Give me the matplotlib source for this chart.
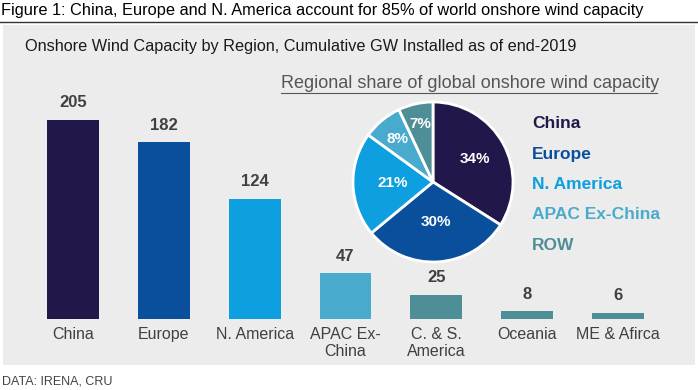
import numpy as np
import matplotlib
matplotlib.use("Agg")
from matplotlib import pyplot as plt
from matplotlib.patches import Rectangle
from matplotlib.lines import Line2D

# bar data
regions = ["China", "Europe", "N. America", "APAC Ex-\nChina", "C. & S.\nAmerica", "Oceania", "ME & Afirca"]
capacity_gw = [205, 182, 124, 47, 25, 8, 6]
bar_colors = ["#21174a", "#0a4f9c", "#0d9fe0", "#48abcd", "#4e8e97", "#4e8e97", "#4e8e97"]

# pie data
pie_labels = ["China", "Europe", "N. America", "APAC Ex-China", "ROW"]
pie_share = [34, 30, 21, 8, 7]
pie_colors = ["#21174a", "#0a4f9c", "#0d9fe0", "#48abcd", "#4e8e97"]
pct_dist = [0.6, 0.5, 0.5, 0.7, 0.74]

plt.rcParams['font.family'] = ['Liberation Sans', 'DejaVu Sans']
W, H = 698, 390
fig = plt.figure(figsize=(W / 100, H / 100), dpi=100)
fig.patch.set_facecolor("white")

def fx(px):
    return px / W

def fy(py):
    return 1 - py / H

# grey panel + rule under title
fig.patches.append(Rectangle((fx(3), fy(365)), fx(692), 340 / H, transform=fig.transFigure,
                             facecolor="#ececec", edgecolor="none", zorder=-5))
fig.lines.append(Line2D([0, 1], [fy(22), fy(22)], transform=fig.transFigure, color="#333333", lw=1))

fig.text(fx(1), fy(10), "Figure 1: China, Europe and N. America account for 85% of world onshore wind capacity",
         fontsize=11.8, va="center", ha="left", color="black")
fig.text(fx(25), fy(47), "Onshore Wind Capacity by Region, Cumulative GW Installed as of end-2019",
         fontsize=11.7, va="center", ha="left", color="#1a1a1a")
fig.text(fx(2), fy(381), "DATA: IRENA, CRU", fontsize=9, va="center", ha="left", color="#444444")

# bars
ax = fig.add_axes([fx(27.6), fy(319), fx(635.8), 219 / H])
ax.set_facecolor("none")
x = np.arange(len(regions))
ax.bar(x, capacity_gw, width=0.57, color=bar_colors)
for xi, v in zip(x, capacity_gw):
    ax.text(xi, v + 10, str(v), ha="center", va="bottom", fontsize=12, fontweight="bold",
            color="#404040")
ax.set_xlim(-0.5, len(regions) - 0.5)
ax.set_ylim(0, 219 / 0.97)
ax.set_xticks(x)
ax.set_xticklabels(regions, fontsize=11.5, color="#404040", linespacing=1.1)
ax.tick_params(axis="x", length=0, pad=6)
ax.set_yticks([])
for s in ax.spines.values():
    s.set_visible(False)

# pie
pax = fig.add_axes([fx(433 - 84), fy(182 + 84), fx(168), 168 / H])
wedges, _ = pax.pie(pie_share, colors=pie_colors, startangle=90, counterclock=False,
                    wedgeprops=dict(edgecolor="white", linewidth=2))
for w, share, d in zip(wedges, pie_share, pct_dist):
    ang = np.deg2rad((w.theta1 + w.theta2) / 2)
    pax.text(d * np.cos(ang), d * np.sin(ang), f"{share}%", ha="center", va="center",
             color="white", fontsize=11, fontweight="bold")
pax.set_xlim(-1.05, 1.05)
pax.set_ylim(-1.05, 1.05)
pax.set_aspect("equal")

fig.text(fx(281), fy(83), "Regional share of global onshore wind capacity", fontsize=13,
         color="#555555", ha="left", va="center")
fig.lines.append(Line2D([fx(281), fx(657)], [fy(93), fy(93)], transform=fig.transFigure, color="#555555", lw=0.8))

for i, (lab, c) in enumerate(zip(pie_labels, pie_colors)):
    fig.text(fx(532), fy(124 + 30.3 * i), lab, fontsize=12.5, fontweight="bold", color=c,
             ha="left", va="center")

fig.savefig("out.png", dpi=100)
